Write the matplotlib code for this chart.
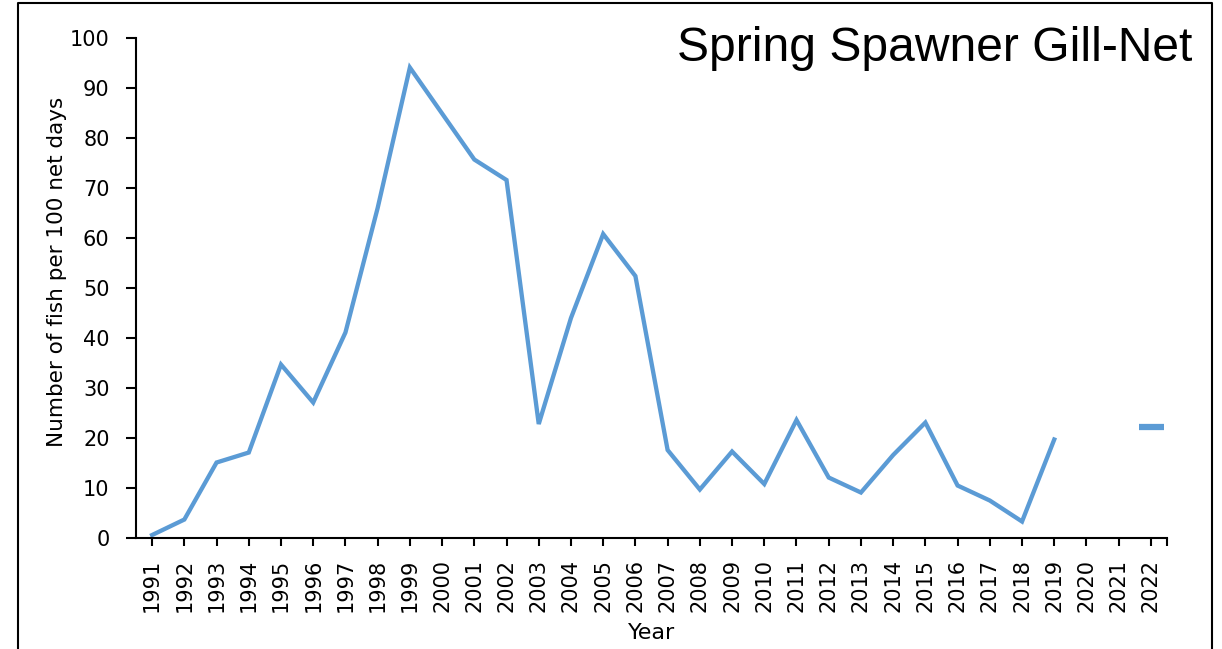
import matplotlib
matplotlib.use("Agg")
import matplotlib.pyplot as plt
from matplotlib.lines import Line2D
import numpy as np

# catch per unit effort, spring spawner gill-net survey
years = [str(y) for y in range(1991, 2023)]
cpue = [0.6, 3.7, 15.1, 17.1, 34.7, 27.1, 41.1, 66.0, 94.1, 84.9,
        75.7, 71.6, 22.8, 44.0, 60.8, 52.4, 17.6, 9.7, 17.3, 10.8,
        23.6, 12.1, 9.1, 16.6, 23.1, 10.5, 7.5, 3.3, 19.7,
        np.nan, np.nan, 22.3]

COLOR = '#5B9BD5'
FONT = 'DejaVu Sans'

fig = plt.figure(figsize=(12.22, 6.49), dpi=100)
ax = fig.add_axes([0.1113, 0.171, 0.8437, 0.7704])

x = np.arange(len(years))
y = np.array(cpue, dtype=float)

# connected series up to 2019
ax.plot(x[:29], y[:29], color=COLOR, linewidth=3.1, solid_joinstyle='miter')
# lone 2022 value shown as a dash
ax.plot(x[31:], y[31:], linestyle='none', marker='_', markersize=18,
        markeredgewidth=4.5, color=COLOR)

ax.set_xlim(-0.5, len(years) - 0.5)
ax.set_ylim(0, 100)
ax.set_yticks(range(0, 101, 10))
ax.set_xticks(x)
ax.set_xticklabels(years, rotation=90, fontsize=15, family=FONT)
ax.set_xticks([len(years) - 0.5], minor=True)
ax.tick_params(axis='y', labelsize=15, direction='out', length=7, width=1.5, pad=12)
ax.tick_params(axis='x', which='both', direction='out', length=6, width=1.5, pad=9)
for lab in ax.get_yticklabels():
    lab.set_family(FONT)

for side in ['top', 'right']:
    ax.spines[side].set_visible(False)
for side in ['left', 'bottom']:
    ax.spines[side].set_linewidth(1.5)

ax.set_xlabel('Year', fontsize=16, family=FONT, labelpad=8)
ax.set_ylabel('Number of fish per 100 net days', fontsize=15.5, family=FONT,
              labelpad=2, y=0.533)

fig.text(0.9755, 0.906, 'Spring Spawner Gill-Net', ha='right', va='baseline',
         fontsize=34.6, family='Liberation Sans')

# frame around the slide panel (no bottom edge visible)
fl, fr, ft = 18 / 1222, 1212 / 1222, 1 - 3 / 649
fig.add_artist(Line2D([fl, fl, fr, fr], [0, ft, ft, 0], color='black',
                      linewidth=1.5, transform=fig.transFigure))

fig.savefig('out.png', dpi=100)
